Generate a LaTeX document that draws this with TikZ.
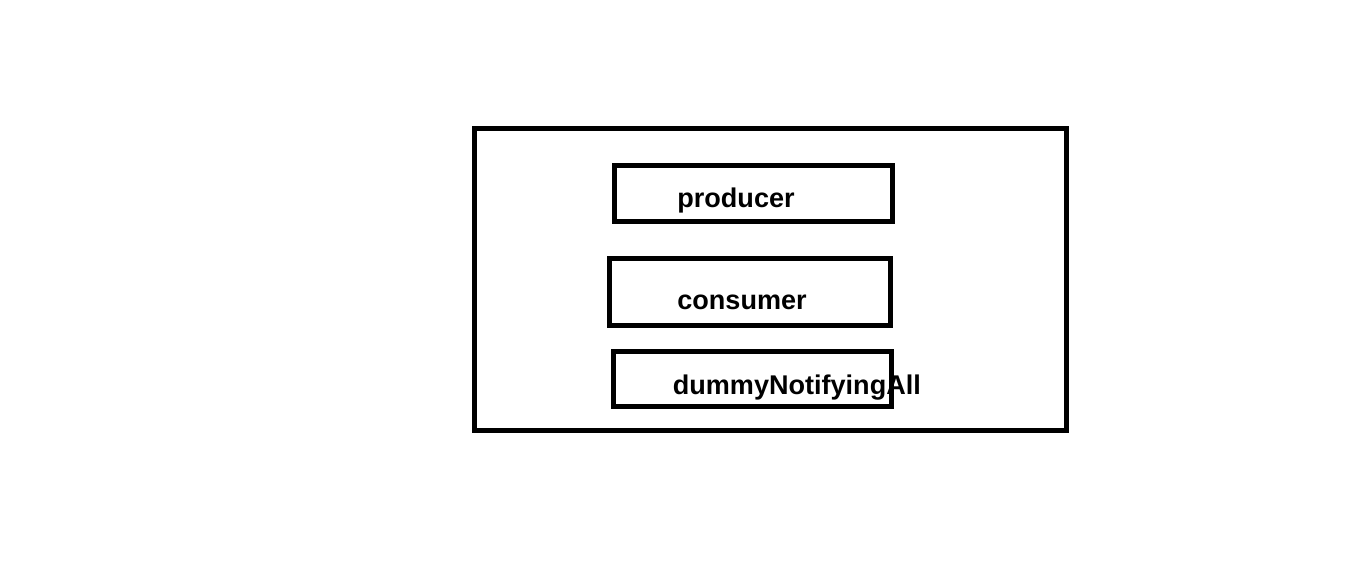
\documentclass[tikz,border=0pt]{standalone}
\usepackage{fontspec}
\setmainfont{Liberation Sans}
\usepackage{tikz}
\usetikzlibrary{positioning}

\begin{document}
\begin{tikzpicture}[
  x=0.02cm, y=-0.02cm,
  frame/.style={rectangle, draw, line width=0.1cm, inner sep=0pt,
                minimum width=11.86cm, minimum height=6.06cm},
  box/.style={rectangle, draw, line width=0.1cm, inner sep=0pt},
  tag/.style={anchor=base west, inner sep=0pt,
              font=\fontsize{15.4}{18}\selectfont\bfseries},
]
  \useasboundingbox (0,0) rectangle (1349,581);
  \node[frame] (thread) at (770.5,279.5) {};
  \node[box, minimum width=5.57cm, minimum height=1.12cm] (producer) at (753.25,193.5) {};
  \node[box, minimum width=5.62cm, minimum height=1.34cm] (consumer) at (750,292) {};
  \node[box, minimum width=5.56cm, minimum height=1.10cm] (dummy) at (752.5,379) {};

  \node[tag] (producerText) at (677,207) {producer};
  \node[tag] (consumerText) at (677,309) {consumer};
  \node[tag] (dummyText) at (672.5,394) {dummyNotifyingAll};
\end{tikzpicture}
\end{document}
